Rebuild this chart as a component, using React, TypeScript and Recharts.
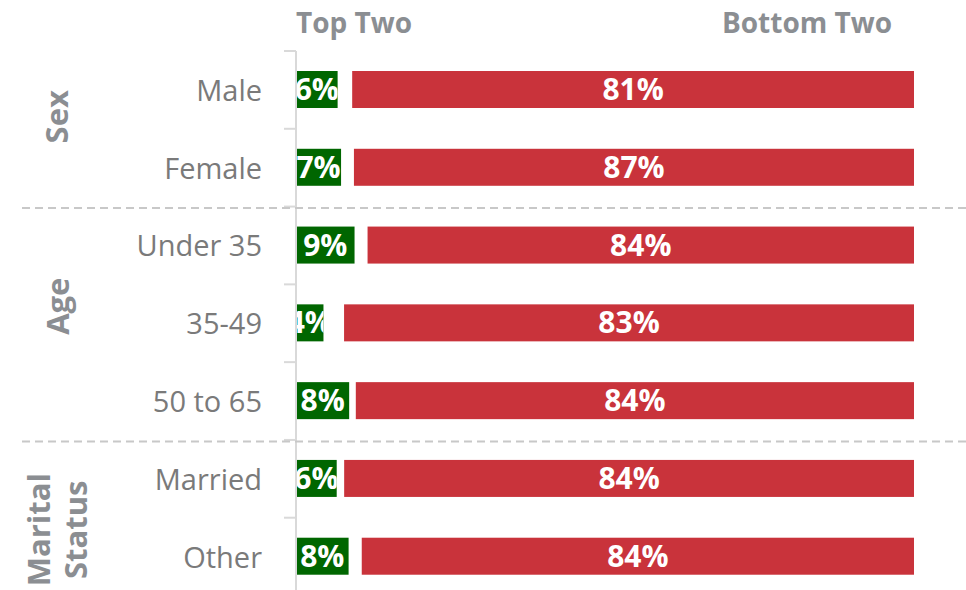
import { Bar, BarChart, XAxis, YAxis } from "recharts";

const categories = ["Male", "Female", "Under 35", "35-49", "50 to 65", "Married", "Other"];
const topTwo = [6, 7, 9, 4, 8, 6, 8];
// unlabelled space between the two bars (share of each row)
const middle = [2.1, 2.0, 2.0, 3.0, 1.0, 1.1, 2.0];
const bottomTwo = [81, 87, 84, 83, 84, 84, 84];

const groupNames = [["Sex"], ["Age"], ["Marital", "Status"]];
const groupSizes = [2, 3, 2];

const seriesNames = ["Top Two", "Bottom Two"];

const data = categories.map((name, i) => ({
  name,
  top: topTwo[i],
  middle: middle[i],
  bottom: bottomTwo[i],
}));

const W = 966;
const H = 600;
const MARGIN = { top: 51, right: 52, bottom: 4.5, left: 0 };
const AXIS_W = 296;
const BAND = (H - MARGIN.top - MARGIN.bottom) / categories.length;
// the group titles are not quite centred on their groups in the original
const GROUP_NUDGE = [-12, -17, 12];

const GREEN = "#006600";
const RED = "#c9333b";
const LABEL_GRAY = "#7a7a7a";
const HEAD_GRAY = "#8b8e92";
const FONT = '"Open Sans", "Noto Sans", sans-serif';

const groupStarts = groupSizes.map((_, g) =>
  groupSizes.slice(0, g).reduce((a, b) => a + b, 0)
);

function CategoryTick(props: any) {
  const { x, y, payload, index } = props;
  const top = y - BAND / 2;
  const g = groupStarts.indexOf(index);
  return (
    <g>
      <line x1={AXIS_W - 12} x2={AXIS_W} y1={top} y2={top} stroke="#d9d9d9" strokeWidth={2} />
      {index === categories.length - 1 && (
        <line x1={AXIS_W - 12} x2={AXIS_W} y1={top + BAND} y2={top + BAND} stroke="#d9d9d9" strokeWidth={2} />
      )}
      {g > 0 && (
        <line x1={22} x2={W} y1={top + 1.5} y2={top + 1.5} stroke="#c8c8c8" strokeWidth={2} strokeDasharray="8 5" />
      )}
      {g >= 0 &&
        groupNames[g].map((line, li) => {
          const n = groupNames[g].length;
          const bx = 68.5 + (li - (n - 1) / 2) * 37;
          const cy = top + (groupSizes[g] * BAND) / 2 + GROUP_NUDGE[g];
          return (
            <text
              key={line}
              x={bx}
              y={cy}
              transform={`rotate(-90 ${bx} ${cy})`}
              textAnchor="middle"
              fill={HEAD_GRAY}
              fontFamily={FONT}
              fontWeight={700}
              fontSize={31}
            >
              {line}
            </text>
          );
        })}
      <text x={x} y={y} dy="0.38em" textAnchor="end" fill={LABEL_GRAY} fontFamily={FONT} fontSize={29}>
        {payload.value}
      </text>
    </g>
  );
}

function LabelledBar(props: any) {
  const { x, y, width, height, fill, index, labelKey } = props;
  const value = props.payload?.[labelKey];
  const id = `clip-${labelKey}-${index}`;
  return (
    <g>
      <defs>
        <clipPath id={id}>
          <rect x={x} y={y} width={width} height={height} />
        </clipPath>
      </defs>
      <rect x={x} y={y} width={width} height={height} fill={fill} />
      <text
        x={x + width / 2}
        y={y + height / 2}
        dy="0.35em"
        textAnchor="middle"
        fill="#ffffff"
        fontFamily={FONT}
        fontWeight={700}
        fontSize={30}
        clipPath={`url(#${id})`}
      >
        {value}%
      </text>
    </g>
  );
}

export default function App() {
  return (
    <div
      style={{
        position: "absolute",
        left: 0,
        top: 0,
        width: W,
        height: 590,
        overflow: "hidden",
        background: "#fff",
      }}
    >
      <BarChart
        width={W}
        height={H}
        data={data}
        layout="vertical"
        stackOffset="expand"
        margin={MARGIN}
        barSize={37}
      >
        <XAxis type="number" hide domain={[0, 1]} />
        <YAxis
          type="category"
          dataKey="name"
          width={AXIS_W}
          interval={0}
          axisLine={{ stroke: "#d9d9d9", strokeWidth: 2 }}
          tickLine={false}
          tickSize={0}
          tickMargin={34}
          tick={(p: any) => <CategoryTick {...p} />}
        />
        <Bar
          dataKey="top"
          name={seriesNames[0]}
          stackId="s"
          fill={GREEN}
          isAnimationActive={false}
          shape={(p: any) => <LabelledBar {...p} labelKey="top" />}
        />
        <Bar dataKey="middle" stackId="s" fill="transparent" isAnimationActive={false} />
        <Bar
          dataKey="bottom"
          name={seriesNames[1]}
          stackId="s"
          fill={RED}
          isAnimationActive={false}
          shape={(p: any) => <LabelledBar {...p} labelKey="bottom" />}
        />
      </BarChart>
      <svg
        width={W}
        height={60}
        style={{ position: "absolute", left: 0, top: 0, pointerEvents: "none" }}
      >
        <text x={AXIS_W} y={33} fill={HEAD_GRAY} fontFamily={FONT} fontWeight={700} fontSize={28}>
          {seriesNames[0]}
        </text>
        <text x={892} y={33} textAnchor="end" fill={HEAD_GRAY} fontFamily={FONT} fontWeight={700} fontSize={28}>
          {seriesNames[1]}
        </text>
      </svg>
    </div>
  );
}
